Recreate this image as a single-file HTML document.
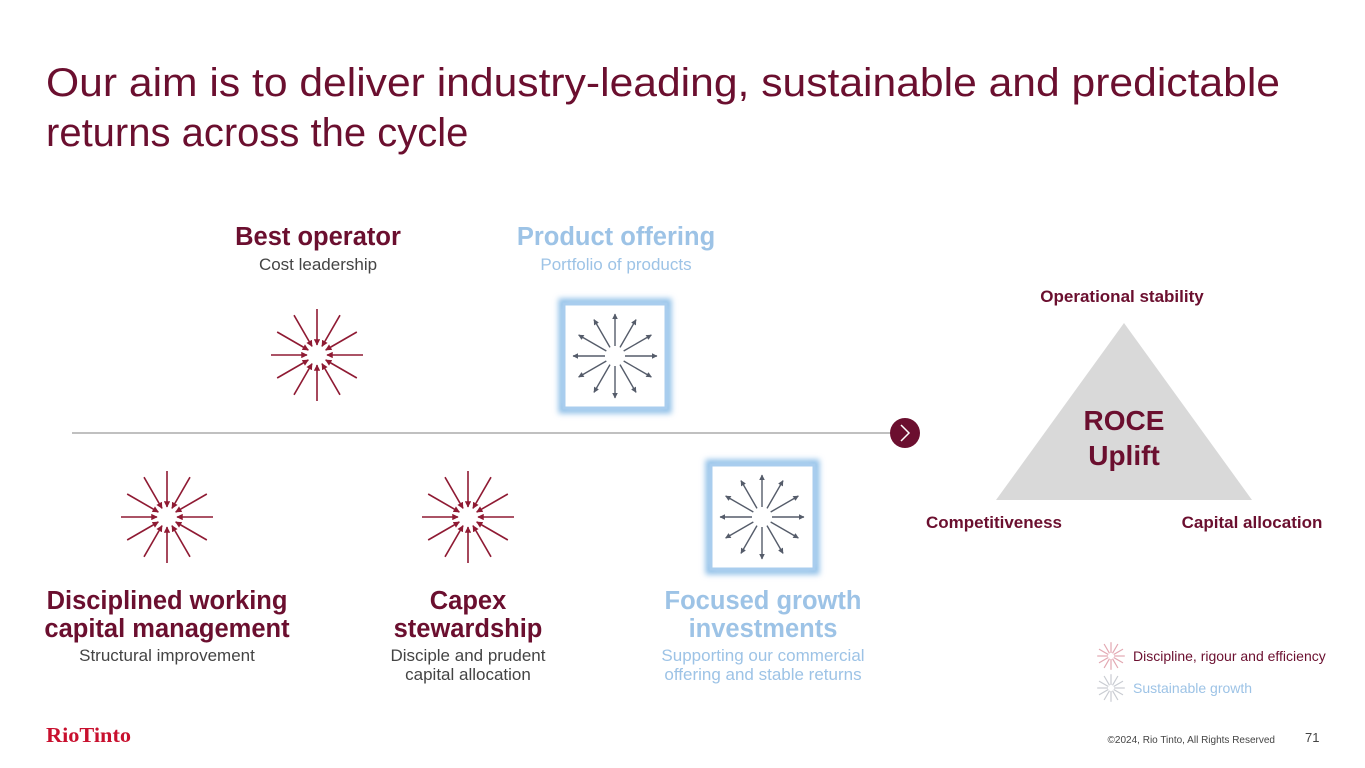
<!DOCTYPE html>
<html><head><meta charset="utf-8"><style>
html,body{margin:0;padding:0;background:#fff;}
svg{display:block;font-family:"Liberation Sans",Arial,sans-serif;}
</style></head><body>
<svg width="1365" height="768" viewBox="0 0 1365 768" xmlns="http://www.w3.org/2000/svg">
<defs>
<marker id="ar" viewBox="0 0 10 10" refX="9" refY="5" markerWidth="4" markerHeight="4" orient="auto"><path d="M0,0L10,5L0,10z" fill="#8f1a33"/></marker>
<marker id="ab" viewBox="0 0 10 10" refX="9" refY="5" markerWidth="4" markerHeight="4" orient="auto"><path d="M0,0L10,5L0,10z" fill="#555c6a"/></marker>
<line id="rl" x1="46" y1="0" x2="10" y2="0" stroke="#8f1a33" stroke-width="1.6" marker-end="url(#ar)"/>
<line id="bl" x1="10" y1="0" x2="42" y2="0" stroke="#555c6a" stroke-width="1.4" marker-end="url(#ab)"/>
<g id="red">
<use href="#rl"/><use href="#rl" transform="rotate(30)"/><use href="#rl" transform="rotate(60)"/><use href="#rl" transform="rotate(90)"/><use href="#rl" transform="rotate(120)"/><use href="#rl" transform="rotate(150)"/><use href="#rl" transform="rotate(180)"/><use href="#rl" transform="rotate(210)"/><use href="#rl" transform="rotate(240)"/><use href="#rl" transform="rotate(270)"/><use href="#rl" transform="rotate(300)"/><use href="#rl" transform="rotate(330)"/>
</g>
<g id="blue">
<use href="#bl"/><use href="#bl" transform="rotate(30)"/><use href="#bl" transform="rotate(60)"/><use href="#bl" transform="rotate(90)"/><use href="#bl" transform="rotate(120)"/><use href="#bl" transform="rotate(150)"/><use href="#bl" transform="rotate(180)"/><use href="#bl" transform="rotate(210)"/><use href="#bl" transform="rotate(240)"/><use href="#bl" transform="rotate(270)"/><use href="#bl" transform="rotate(300)"/><use href="#bl" transform="rotate(330)"/>
</g>
<filter id="glow" x="-20%" y="-20%" width="140%" height="140%"><feGaussianBlur stdDeviation="3"/></filter>
</defs>

<text x="46" y="96" font-size="40" fill="#6b0f2f" textLength="1234" lengthAdjust="spacingAndGlyphs">Our aim is to deliver industry-leading, sustainable and predictable</text>
<text x="46" y="146" font-size="40" fill="#6b0f2f">returns across the cycle</text>

<text x="318" y="245" font-size="25.5" font-weight="bold" fill="#6b0f2f" text-anchor="middle">Best operator</text>
<text x="318" y="270" font-size="17" fill="#444" text-anchor="middle">Cost leadership</text>
<text x="616" y="245" font-size="25.5" font-weight="bold" fill="#9dc3e6" text-anchor="middle">Product offering</text>
<text x="616" y="270" font-size="17" fill="#9dc3e6" text-anchor="middle">Portfolio of products</text>

<line x1="72" y1="433" x2="892" y2="433" stroke="#9a9a9a" stroke-width="1.3"/>
<circle cx="905" cy="433" r="15" fill="#6b0f2f"/>
<path d="M901,425 L909,433 L901,441" fill="none" stroke="#fff" stroke-width="1.5"/>

<use href="#red" transform="translate(317,355)"/>
<use href="#red" transform="translate(167,517)"/>
<use href="#red" transform="translate(468,517)"/>

<rect x="562" y="302" width="106" height="108" fill="none" stroke="#8fbfe8" stroke-width="7" filter="url(#glow)"/>
<rect x="564" y="304" width="102" height="104" fill="#fff" stroke="#a9cdee" stroke-width="3"/>
<use href="#blue" transform="translate(615,356)"/>
<rect x="709" y="463" width="107" height="108" fill="none" stroke="#8fbfe8" stroke-width="7" filter="url(#glow)"/>
<rect x="711" y="465" width="103" height="104" fill="#fff" stroke="#a9cdee" stroke-width="3"/>
<use href="#blue" transform="translate(762,517)"/>

<text x="167" y="609" font-size="25.5" font-weight="bold" fill="#6b0f2f" text-anchor="middle">Disciplined working</text>
<text x="167" y="637" font-size="25.5" font-weight="bold" fill="#6b0f2f" text-anchor="middle">capital management</text>
<text x="167" y="661" font-size="17" fill="#444" text-anchor="middle">Structural improvement</text>
<text x="468" y="609" font-size="25.5" font-weight="bold" fill="#6b0f2f" text-anchor="middle">Capex</text>
<text x="468" y="637" font-size="25.5" font-weight="bold" fill="#6b0f2f" text-anchor="middle">stewardship</text>
<text x="468" y="661" font-size="17" fill="#444" text-anchor="middle">Disciple and prudent</text>
<text x="468" y="680" font-size="17" fill="#444" text-anchor="middle">capital allocation</text>
<text x="763" y="609" font-size="25.5" font-weight="bold" fill="#9dc3e6" text-anchor="middle">Focused growth</text>
<text x="763" y="637" font-size="25.5" font-weight="bold" fill="#9dc3e6" text-anchor="middle">investments</text>
<text x="763" y="661" font-size="17" fill="#9dc3e6" text-anchor="middle">Supporting our commercial</text>
<text x="763" y="680" font-size="17" fill="#9dc3e6" text-anchor="middle">offering and stable returns</text>

<polygon points="1124,323 996,500 1252,500" fill="#d9d9d9"/>
<text x="1124" y="430" font-size="28" font-weight="bold" fill="#6b0f2f" text-anchor="middle">ROCE</text>
<text x="1124" y="465" font-size="28" font-weight="bold" fill="#6b0f2f" text-anchor="middle">Uplift</text>
<text x="1122" y="302" font-size="17" font-weight="bold" fill="#6b0f2f" text-anchor="middle">Operational stability</text>
<text x="994" y="528" font-size="17" font-weight="bold" fill="#6b0f2f" text-anchor="middle">Competitiveness</text>
<text x="1252" y="528" font-size="17" font-weight="bold" fill="#6b0f2f" text-anchor="middle">Capital allocation</text>

<g transform="translate(1111,656) scale(0.3)">
<g stroke="#e3a8b2" stroke-width="4">
<line x1="46" y1="0" x2="10" y2="0"/><line x1="-46" y1="0" x2="-10" y2="0"/><line x1="0" y1="46" x2="0" y2="10"/><line x1="0" y1="-46" x2="0" y2="-10"/>
<line x1="40" y1="23" x2="9" y2="5"/><line x1="-40" y1="-23" x2="-9" y2="-5"/><line x1="40" y1="-23" x2="9" y2="-5"/><line x1="-40" y1="23" x2="-9" y2="5"/>
<line x1="23" y1="40" x2="5" y2="9"/><line x1="-23" y1="-40" x2="-5" y2="-9"/><line x1="23" y1="-40" x2="5" y2="-9"/><line x1="-23" y1="40" x2="-5" y2="9"/>
</g></g>
<text x="1133" y="661" font-size="14" fill="#6b0f2f">Discipline, rigour and efficiency</text>
<g transform="translate(1111,688) scale(0.3)">
<g stroke="#c9ccd2" stroke-width="4">
<line x1="46" y1="0" x2="10" y2="0"/><line x1="-46" y1="0" x2="-10" y2="0"/><line x1="0" y1="46" x2="0" y2="10"/><line x1="0" y1="-46" x2="0" y2="-10"/>
<line x1="40" y1="23" x2="9" y2="5"/><line x1="-40" y1="-23" x2="-9" y2="-5"/><line x1="40" y1="-23" x2="9" y2="-5"/><line x1="-40" y1="23" x2="-9" y2="5"/>
<line x1="23" y1="40" x2="5" y2="9"/><line x1="-23" y1="-40" x2="-5" y2="-9"/><line x1="23" y1="-40" x2="5" y2="-9"/><line x1="-23" y1="40" x2="-5" y2="9"/>
</g></g>
<text x="1133" y="693" font-size="14" fill="#9dc3e6">Sustainable growth</text>

<text x="46" y="742" font-size="21" font-weight="bold" fill="#c8102e" font-family="Liberation Serif,serif" textLength="85" lengthAdjust="spacingAndGlyphs">RioTinto</text>
<text x="1275" y="743" font-size="10" fill="#444" text-anchor="end">©2024, Rio Tinto, All Rights Reserved</text>
<text x="1305" y="742" font-size="13" fill="#444">71</text>
</svg>
</body></html>
